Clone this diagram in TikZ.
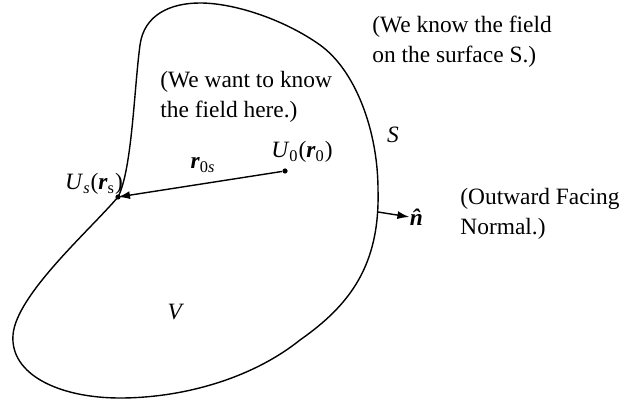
\documentclass[tikz,border=0pt]{standalone}
\usepackage{fontspec}
\setmainfont{Liberation Serif}
\usepackage{tikz}
\usetikzlibrary{arrows.meta,positioning}

\begin{document}
\begin{tikzpicture}[
  x=0.5pt, y=-0.5pt,
  font=\fontsize{11.7}{15}\selectfont,
  surface/.style={line width=0.7pt},
  dot/.style={circle, fill, inner sep=0pt, minimum size=2.6pt},
  note/.style={align=left, anchor=west, inner sep=0pt},
  lbl/.style={inner sep=0pt},
  arrow/.style={-{Latex[length=6pt,width=4pt]}, line width=0.7pt}
]
  \useasboundingbox (0,0) rectangle (624,400);

  % Points
  \node[dot] (u0) at (285,171) {};
  \node[dot] (us) at (118,197) {};
  \coordinate (nbase) at (378,212);

  % Surface S enclosing V
  \draw[surface] (us.center)
    .. controls (132,170) and (134,90) .. (140,45)
    .. controls (144,15) and (170,3) .. (200,3)
    .. controls (235,3) and (285,20) .. (320,45)
    .. controls (355,70) and (378,130) .. (378,190)
    .. controls (380,265) and (350,305) .. (300,340)
    .. controls (250,380) and (180,398) .. (120,398)
    .. controls (60,398) and (10,375) .. (13,335)
    .. controls (16,295) and (90,230) .. (us.center) -- cycle;

  % Labels
  \node[lbl] (u0lbl) at (302,152) {\textit{U}\textsubscript{0}(\textbf{\textit{r}}\textsubscript{0})};
  \node[lbl] (uslbl) at (94,184) {\textit{U}\textsubscript{\textit{s}}(\textbf{\textit{r}}\textsubscript{s})};
  \node[lbl] (r0s) at (203,165) {\textbf{\textit{r}}\textsubscript{0\textit{s}}};
  \node[lbl] (n) at (419,217) {\textbf{\textit{\^n}}};
  \node[lbl] (slbl) at (393,135) {\textit{S}};
  \node[lbl] (vlbl) at (176,312) {\textit{V}};

  % Notes
  \node[note] (know) at (372,42) {(We know the field\\on the surface S.)};
  \node[note] (want) at (160,97) {(We want to know\\the field here.)};
  \node[note] (normal) at (460,214) {(Outward Facing\\Normal.)};

  % Arrows
  \draw[arrow] (u0) -- (us.center);
  \draw[arrow] (nbase) -- (n.west);
\end{tikzpicture}
\end{document}
